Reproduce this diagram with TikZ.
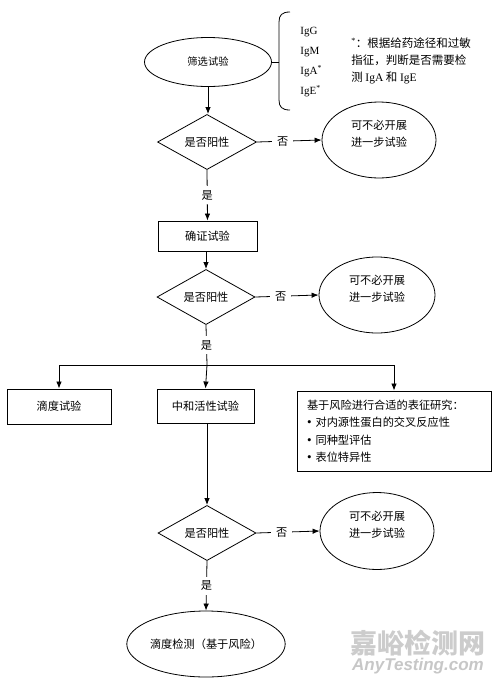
\documentclass[tikz,border=0pt]{standalone}
\usepackage{fontspec}
\setmainfont{Noto Sans CJK SC}
\newfontfamily\lserif{Liberation Serif}
\newfontfamily\wmlat{Liberation Sans}
\usetikzlibrary{shapes.geometric,arrows.meta}
\newcommand{\mybul}{{\lserif\fontsize{13}{13}\selectfont •}}
\begin{document}
\begin{tikzpicture}[x=1pt,y=-1pt,line width=0.8pt,
  >={Latex[length=7pt,width=5.5pt]},
  every node/.style={font=\fontsize{11.2}{17}\selectfont,inner sep=0pt},
  ell/.style={draw,ellipse,align=center},
  dia/.style={draw,diamond},
  box/.style={draw,rectangle,line width=0.9pt},
  lab/.style={fill=white,inner xsep=5pt,inner ysep=4pt},
  vlab/.style={fill=white,inner xsep=2pt,inner ysep=4pt}]
\useasboundingbox (0,0) rectangle (500,686);
% nodes
\node[ell,minimum width=127pt,minimum height=49pt,font=\fontsize{10.3}{12}\selectfont] (s1) at (208,62) {筛选试验};
\node[dia,minimum width=99pt,minimum height=36pt] (d1) at (207,142) {是否阳性};
\node[ell,minimum width=114pt,minimum height=76pt] (n1) at (379,140) {可不必开展\\进一步试验\\[-4pt]};
\node[box,minimum width=99pt,minimum height=30pt] (c1) at (207.5,236) {确证试验};
\node[dia,minimum width=98pt,minimum height=39pt] (d2) at (206,297) {是否阳性};
\node[ell,minimum width=116pt,minimum height=76pt] (n2) at (377,295) {可不必开展\\进一步试验\\[-4pt]};
\coordinate (j) at (207,365);
\node[box,minimum width=104pt,minimum height=35pt] (b1) at (59,406.5) {滴度试验};
\node[box,minimum width=97pt,minimum height=34pt] (b2) at (205.5,406) {中和活性试验};
\node[box,minimum width=194pt,minimum height=80pt,align=left,text width=174pt,font=\fontsize{11.2}{17.5}\selectfont] (b3) at (394,431)
  {基于风险进行合适的表征研究：\\
   \mybul\hspace{4pt}对内源性蛋白的交叉反应性\\
   \mybul\hspace{4pt}同种型评估\\
   \mybul\hspace{4pt}表位特异性};
\node[dia,minimum width=98pt,minimum height=40pt] (d3) at (207,533) {是否阳性};
\node[ell,minimum width=114pt,minimum height=77pt] (n3) at (377,531) {可不必开展\\进一步试验\\[-4pt]};
\node[ell,minimum width=122pt,minimum height=66pt] (e5) at (206,644) {滴度检测（基于风险）};
% brace and Ig list
\coordinate (bt) at (279,62);
\draw (290,12) .. controls (282,12) and (279,15) .. (279,22) -- (279,100) .. controls (279,107) and (282,110) .. (290,110);
\draw (s1.east) -- (bt);
\node[anchor=west,align=left,font=\lserif\fontsize{11}{20}\selectfont] (ig) at (300,62)
  {IgG\\IgM\\IgA\textsuperscript{*}\\IgE\textsuperscript{*}};
\node[anchor=west,align=left,font=\fontsize{11.5}{17}\selectfont] (note) at (351,61)
  {{\lserif\textsuperscript{*}}：根据给药途径和过敏\\指征，判断是否需要检\\测 {\lserif IgA} 和 {\lserif IgE}};
% connectors
\draw[->] (s1.south) -- (s1.south |- d1.north);
\draw[->] (d1.east) -- node[lab,pos=0.4]{否} (n1.west);
\draw[->] (d1.south) -- node[vlab]{是} (c1.north);
\draw[->] (c1.south) -- (c1.south -| d2.north) -- (d2.north);
\draw[->] (d2.east) -- node[lab,pos=0.4]{否} (n2.west);
\draw (d2.south) -- node[vlab]{是} (j);
\draw[->] (j) -- (b2.north);
\draw[->] (j) -| (b1.north);
\draw[->] (j) -| (b3.north);
\draw[->] (b2.south) -- (b2.south -| d3.north) -- (d3.north);
\draw[->] (d3.east) -- node[lab,pos=0.4]{否} (n3.west);
\draw[->] (d3.south) -- node[vlab]{是} (e5.north);
% watermark
\node[text=black!20,font=\fontsize{27}{30}\selectfont\bfseries] (wm1) at (418,643) {嘉峪检测网};
\node[text=black!22,font=\wmlat\fontsize{17}{20}\selectfont\bfseries\itshape] (wm2) at (418,666) {AnyTesting.com};
\end{tikzpicture}
\end{document}
